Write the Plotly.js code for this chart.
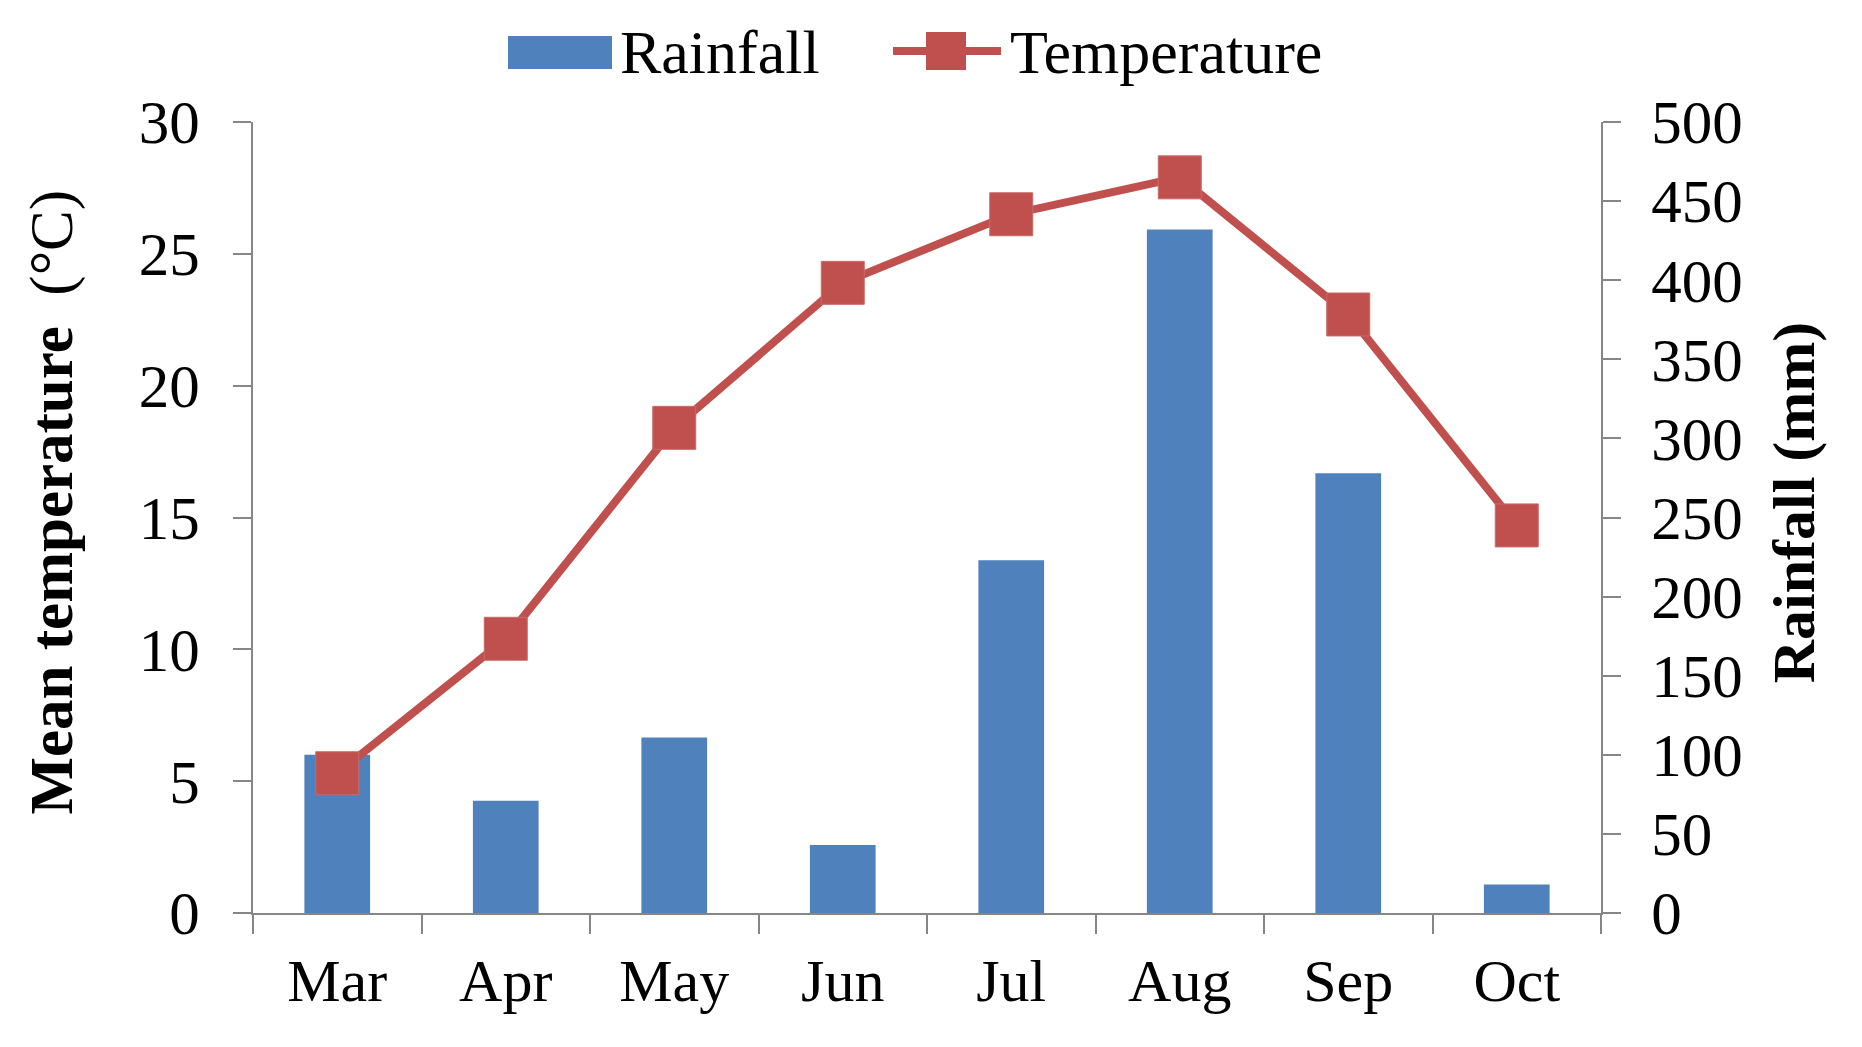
<!DOCTYPE html>
<html>
<head>
<meta charset="utf-8">
<script src="https://cdn.plot.ly/plotly-3.0.1.min.js"></script>
<style>html,body{margin:0;padding:0;background:#fff;}#chart{width:1862px;height:1047px;}</style>
</head>
<body>
<div id="chart"></div>
<script>
var months = ["Mar", "Apr", "May", "Jun", "Jul", "Aug", "Sep", "Oct"];
var rainfall = [100, 71, 111, 43, 223, 432, 278, 18];
var temperature = [5.3, 10.4, 18.4, 23.9, 26.5, 27.9, 22.7, 14.7];
var tempTicks = [0, 5, 10, 15, 20, 25, 30];
var rainTicks = [0, 50, 100, 150, 200, 250, 300, 350, 400, 450, 500];

var BLUE = "#4F81BD", RED = "#C0504D", AX = "#868686";
var FONT = "Liberation Serif, Times New Roman, serif";

var traces = [
  {type: "bar", name: "Rainfall", x: months, y: rainfall, yaxis: "y",
   marker: {color: BLUE}, showlegend: false, hoverinfo: "x+y"},
  {type: "scatter", mode: "lines+markers", name: "Temperature", x: months, y: temperature, yaxis: "y2",
   line: {color: RED, width: 8}, marker: {symbol: "square", size: 43, color: RED, line: {color: "#C96A68", width: 1}},
   showlegend: false, cliponaxis: false}
];

// legend drawn in paper coordinates
function px(x) { return (x - 253) / 1348; }
function py(y) { return (913 - y) / 791; }

var LEAD = "\u200b\u00a0\u00a0";

var layout = {
  width: 1862, height: 1047,
  margin: {l: 253, r: 261, t: 122, b: 134},
  paper_bgcolor: "#fff", plot_bgcolor: "#fff",
  font: {family: FONT, color: "#000"},
  bargap: 0.61,
  xaxis: {type: "category", range: [-0.5, 7.5], tickson: "boundaries", ticks: "outside", ticklen: 19,
    tickwidth: 2, tickcolor: AX, showline: true, linecolor: AX, linewidth: 2, showgrid: false, zeroline: false,
    tickfont: {family: FONT, size: 60, color: "#000"}, ticklabelstandoff: 14},
  yaxis: {side: "right", range: [0, 500], tickvals: rainTicks, ticks: "outside", ticklen: 18, tickwidth: 2,
    tickcolor: AX, showline: true, linecolor: AX, linewidth: 2, showgrid: false, zeroline: false,
    tickfont: {family: FONT, size: 61, color: "#000"}, ticklabelstandoff: 18,
    title: {text: LEAD + "<b>Rainfall (mm)</b>", font: {family: FONT, size: 60, color: "#000"}, standoff: 30}},
  yaxis2: {overlaying: "y", side: "left", range: [0, 30], tickvals: tempTicks, ticks: "outside", ticklen: 18,
    tickwidth: 2, tickcolor: AX, showline: true, linecolor: AX, linewidth: 2, showgrid: false, zeroline: false,
    tickfont: {family: FONT, size: 61, color: "#000"}, ticklabelstandoff: 21,
    title: {text: LEAD + "<b>Mean temperature</b>\u00a0\u00a0(°C)", font: {family: FONT, size: 61, color: "#000"}, standoff: 46}},
  shapes: [
    {type: "rect", xref: "paper", yref: "paper", x0: px(508), x1: px(612), y0: py(69), y1: py(36),
     fillcolor: BLUE, line: {width: 0}},
    {type: "line", xref: "paper", yref: "paper", x0: px(893), x1: px(1001), y0: py(51), y1: py(51),
     line: {color: RED, width: 8}},
    {type: "rect", xref: "paper", yref: "paper", x0: px(926), x1: px(966), y0: py(70), y1: py(32),
     fillcolor: RED, line: {width: 0}}
  ],
  annotations: [
    {xref: "paper", yref: "paper", x: px(618), y: py(52), xanchor: "left", yanchor: "middle", showarrow: false,
     text: "Rainfall", font: {family: FONT, size: 62, color: "#000"}},
    {xref: "paper", yref: "paper", x: px(1008), y: py(52), xanchor: "left", yanchor: "middle", showarrow: false,
     text: "Temperature", font: {family: FONT, size: 62, color: "#000"}}
  ]
};

Plotly.newPlot("chart", traces, layout, {displayModeBar: false, staticPlot: true});
</script>
</body>
</html>
